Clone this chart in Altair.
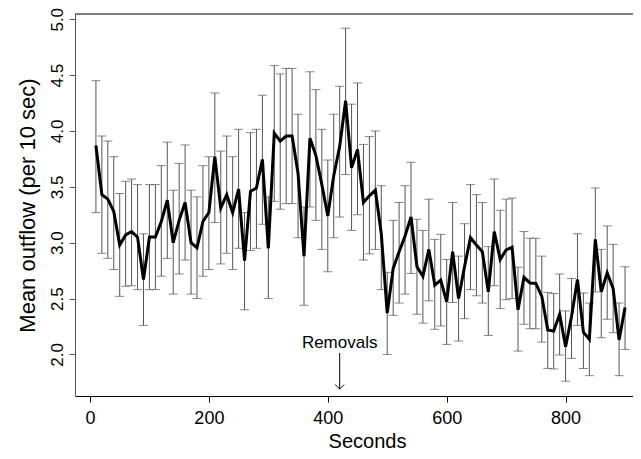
import altair as alt
import pandas as pd

seconds = list(range(10, 901, 10))
mean_outflow = [3.87, 3.43, 3.39, 3.28, 2.98, 3.07, 3.10, 3.05, 2.67, 3.05,
                3.05, 3.19, 3.38, 3.00, 3.20, 3.36, 3.00, 2.955, 3.19, 3.27,
                3.77, 3.31, 3.43, 3.27, 3.48, 2.84, 3.46, 3.49, 3.745, 2.95,
                3.98, 3.91, 3.955, 3.955, 3.62, 2.88, 3.935, 3.78, 3.52, 3.24,
                3.60, 3.86, 4.27, 3.67, 3.835, 3.36, 3.42, 3.47, 3.08, 2.37,
                2.77, 2.92, 3.06, 3.23, 2.785, 2.70, 2.94, 2.62, 2.665, 2.47,
                2.92, 2.50, 2.785, 3.045, 2.98, 2.92, 2.56, 3.10, 2.85, 2.935,
                2.96, 2.40, 2.69, 2.64, 2.635, 2.52, 2.22, 2.21, 2.36, 2.07,
                2.34, 2.67, 2.20, 2.135, 3.03, 2.56, 2.73, 2.59, 2.13, 2.42]
upper = [4.45, 3.955, 3.91, 3.77, 3.44, 3.55, 3.57, 3.52, 3.08, 3.52,
         3.52, 3.69, 3.90, 3.47, 3.71, 3.875, 3.47, 3.41, 3.69, 3.77,
         4.34, 3.82, 3.955, 3.77, 4.015, 3.27, 3.985, 4.015, 4.32, 3.41,
         4.585, 4.51, 4.56, 4.56, 4.15, 3.32, 4.53, 4.37, 4.015, 3.74,
         4.15, 4.40, 4.92, 4.24, 4.43, 3.88, 3.95, 4.00, 3.51, 2.735,
         3.20, 3.36, 3.51, 3.72, 3.21, 3.11, 3.39, 3.03, 3.075, 2.85,
         3.36, 2.88, 3.17, 3.52, 3.43, 3.36, 2.965, 3.57, 3.29, 3.39,
         3.40, 2.78, 3.10, 3.04, 3.04, 2.88, 2.555, 2.545, 2.72, 2.39,
         2.68, 3.08, 2.55, 2.46, 3.49, 2.94, 3.15, 2.985, 2.46, 2.785]
lower = [3.27, 2.905, 2.86, 2.76, 2.52, 2.61, 2.615, 2.58, 2.26, 2.58,
         2.58, 2.70, 2.86, 2.54, 2.72, 2.845, 2.54, 2.50, 2.70, 2.76,
         3.18, 2.81, 2.905, 2.76, 2.95, 2.40, 2.93, 2.95, 3.165, 2.50,
         3.37, 3.30, 3.35, 3.35, 3.045, 2.44, 3.32, 3.20, 2.94, 2.74,
         3.045, 3.23, 3.61, 3.11, 3.25, 2.845, 2.90, 2.94, 2.58, 2.00,
         2.35, 2.46, 2.54, 2.725, 2.36, 2.28, 2.48, 2.225, 2.255, 2.09,
         2.465, 2.12, 2.32, 2.58, 2.525, 2.46, 2.17, 2.615, 2.41, 2.49,
         2.50, 2.03, 2.27, 2.23, 2.23, 2.11, 1.875, 1.87, 1.995, 1.76,
         1.965, 2.26, 1.875, 1.81, 2.56, 2.15, 2.315, 2.195, 1.81, 2.045]

x_ticks = [0, 200, 400, 600, 800]
y_ticks = [2.0, 2.5, 3.0, 3.5, 4.0, 4.5, 5.0]
x_domain = [-25.2, 913.4]
y_domain = [1.628, 5.047]

annot_x = [420]
annot_label = ["Removals"]
annot_text_y = [2.057]
annot_arrow_top = [2.013]
annot_arrow_tip = [1.69]

W, H = 558, 382
FONT = "Liberation Sans"

df = pd.DataFrame({"t": seconds, "m": mean_outflow, "hi": upper, "lo": lower})
ann = pd.DataFrame({"t": annot_x, "label": annot_label, "ty": annot_text_y,
                    "y1": annot_arrow_top, "y2": annot_arrow_tip})

xs = alt.Scale(domain=x_domain, nice=False, zero=False)
ys = alt.Scale(domain=y_domain, nice=False, zero=False)

x_axis = alt.Axis(values=x_ticks, title="Seconds", labelFontSize=18, labelPadding=7,
                  tickSize=6, domainColor="black", tickColor="black", labelFlush=False,
                  titleFontSize=20, titleX=292, titleY=51, titleBaseline="alphabetic",
                  titleAlign="center", grid=False)
y_axis = alt.Axis(values=y_ticks, format=".1f", title="Mean outflow (per 10 sec)",
                  labelAngle=270, labelAlign="center", labelBaseline="alphabetic",
                  labelFontSize=17, labelPadding=7, tickSize=6, domainColor="#555",
                  tickColor="#555", labelFlush=False, labelOverlap=False,
                  titleFontSize=22, titleX=-41, titleY=H / 2, titleAngle=270,
                  titleAlign="center", titleBaseline="alphabetic", grid=False)


def X(field):
    return alt.X(field, type="quantitative", scale=xs, axis=x_axis)


def Y(field):
    return alt.Y(field, type="quantitative", scale=ys, axis=y_axis)


base = alt.Chart(df)

bars = base.mark_rule(color="#555", strokeWidth=1).encode(
    x=X("t"), y=Y("lo"), y2="hi:Q",
)
cap_hi = base.mark_tick(orient="horizontal", size=9, thickness=1, color="#555").encode(
    x=X("t"), y=Y("hi"),
)
cap_lo = base.mark_tick(orient="horizontal", size=9, thickness=1, color="#555").encode(
    x=X("t"), y=Y("lo"),
)
line = base.mark_line(color="black", strokeWidth=3).encode(
    x=X("t"), y=Y("m"),
)

abase = alt.Chart(ann)
label = abase.mark_text(font=FONT, fontSize=17, align="center", baseline="alphabetic",
                        color="black").encode(
    x=X("t"), y=Y("ty"), text="label:N",
)
arrow = abase.mark_rule(color="black", strokeWidth=1).encode(
    x=X("t"), y=Y("y1"), y2="y2:Q",
)
head = abase.mark_point(shape="M -1 -1 L 0 0 L 1 -1", filled=False, size=80,
                        color="black", strokeWidth=1, opacity=1).encode(
    x=X("t"), y=Y("y2"),
)

top_border = alt.Chart(pd.DataFrame({"a": [0]})).mark_rule(color="black", strokeWidth=1).encode(
    x=alt.value(0), x2=alt.value(W), y=alt.value(0)
)

chart = alt.layer(bars, cap_hi, cap_lo, line, label, arrow, head, top_border).properties(
    width=W, height=H,
    autosize=alt.AutoSizeParams(type="none"),
    padding={"left": 67, "top": 6, "right": 0, "bottom": 55},
).configure_view(stroke=None).configure_axis(
    labelFont=FONT, titleFont=FONT, labelColor="black", titleColor="black",
    titleFontWeight="normal"
)

chart.save("out.html", embed_options={"renderer": "svg", "actions": False})
